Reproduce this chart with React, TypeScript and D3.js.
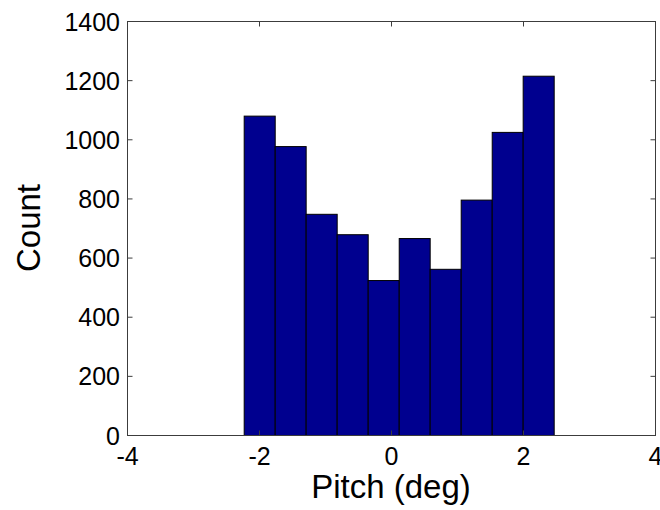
import React from "react";
import * as d3 from "d3";

const binEdges = [-2.232, -1.762, -1.293, -0.823, -0.353, 0.117, 0.586, 1.056, 1.526, 1.995, 2.465];
const counts = [1080, 977, 748, 679, 524, 666, 562, 796, 1025, 1215];
const xTicks = [-4, -2, 0, 2, 4];
const yTicks = [0, 200, 400, 600, 800, 1000, 1200, 1400];
const xLabel = "Pitch (deg)";
const yLabel = "Count";

const W = 660;
const H = 510;
const M = { left: 127.5, right: 655.5, top: 21.5, bottom: 435.5 };
const FONT = "'Liberation Sans', Arial, Helvetica, sans-serif";
const AXIS = "#3c3c3c";
const BAR = "#00008f";

export default function App() {
  const x = d3.scaleLinear().domain([-4, 4]).range([M.left, M.right]);
  const y = d3.scaleLinear().domain([0, 1400]).range([M.bottom, M.top]);
  const tickLen = 5;
  const bins = counts.map((c, i) => ({ x0: binEdges[i], x1: binEdges[i + 1], c }));

  return (
    <svg width={W} height={H} style={{ position: "absolute", left: 0, top: 0, background: "#fff" }}>
      {bins.map((b, i) => (
        <rect
          key={i}
          x={x(b.x0)}
          y={y(b.c)}
          width={x(b.x1) - x(b.x0)}
          height={y(0) - y(b.c)}
          fill={BAR}
          stroke="#000"
          strokeWidth={1}
        />
      ))}
      <rect
        x={M.left}
        y={M.top}
        width={M.right - M.left}
        height={M.bottom - M.top}
        fill="none"
        stroke={AXIS}
        strokeWidth={1}
      />
      {xTicks.map((t) => (
        <g key={"x" + t}>
          <line x1={x(t)} x2={x(t)} y1={M.bottom} y2={M.bottom - tickLen} stroke={AXIS} />
          <line x1={x(t)} x2={x(t)} y1={M.top} y2={M.top + tickLen} stroke={AXIS} />
          <text x={x(t)} y={465} textAnchor="middle" fontFamily={FONT} fontSize={25} fill="#000">
            {t}
          </text>
        </g>
      ))}
      {yTicks.map((t) => (
        <g key={"y" + t}>
          <line x1={M.left} x2={M.left + tickLen} y1={y(t)} y2={y(t)} stroke={AXIS} />
          <line x1={M.right} x2={M.right - tickLen} y1={y(t)} y2={y(t)} stroke={AXIS} />
          <text
            x={120}
            y={y(t) + 9}
            textAnchor="end"
            fontFamily={FONT}
            fontSize={25}
            fill="#000"
          >
            {t}
          </text>
        </g>
      ))}
      <text x={391} y={498} textAnchor="middle" fontFamily={FONT} fontSize={33} fill="#000">
        {xLabel}
      </text>
      <text
        transform={`translate(40,228) rotate(-90)`}
        textAnchor="middle"
        fontFamily={FONT}
        fontSize={33}
        fill="#000"
      >
        {yLabel}
      </text>
    </svg>
  );
}
